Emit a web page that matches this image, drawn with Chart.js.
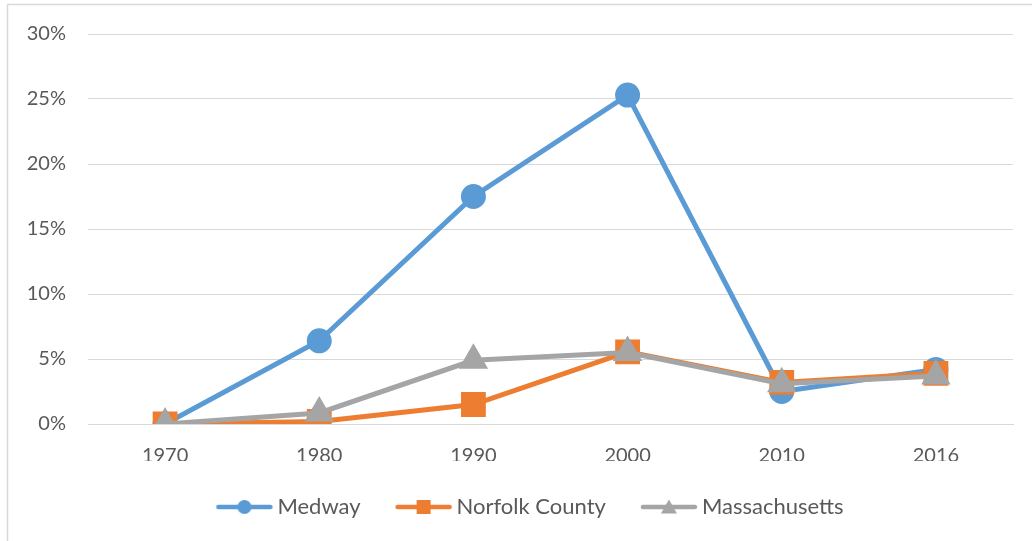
<!DOCTYPE html>
<html>
<head>
<meta charset="utf-8">
<script src="https://cdn.jsdelivr.net/npm/chart.js@4/dist/chart.umd.min.js"></script>
<style>
html,body{margin:0;padding:0;background:#fff;}
#wrap{width:1032px;height:541px;position:relative;}
</style>
</head>
<body>
<div id="wrap"><canvas id="c" width="1032" height="541"></canvas></div>
<script>
const categories = ['1970', '1980', '1990', '2000', '2010', '2016'];
const medway = [0, 6.4, 17.5, 25.3, 2.5, 4.2];
const norfolk = [0, 0.2, 1.5, 5.55, 3.2, 3.9];
const massachusetts = [0, 0.85, 4.9, 5.5, 3.1, 3.7];
const seriesNames = ['Medway', 'Norfolk County', 'Massachusetts'];
const colors = ['#5b9bd5', '#ed7d31', '#a5a5a5'];
const FONT = 'Lato, "Open Sans", sans-serif';

function legendIcon(color, shape) {
  const c = document.createElement('canvas');
  c.width = 64; c.height = 18;
  const g = c.getContext('2d');
  g.strokeStyle = color; g.fillStyle = color;
  g.lineWidth = 4.5; g.lineCap = 'round';
  g.beginPath(); g.moveTo(9, 9); g.lineTo(61, 9); g.stroke();
  const cx = 35;
  g.beginPath();
  if (shape === 'circle') { g.arc(cx, 9, 7, 0, Math.PI * 2); }
  else if (shape === 'rect') { g.rect(cx - 7, 2, 14, 14); }
  else { g.moveTo(cx, 1.5); g.lineTo(cx + 8, 15.5); g.lineTo(cx - 8, 15.5); g.closePath(); }
  g.fill();
  return c;
}
const icons = [legendIcon(colors[0], 'circle'), legendIcon(colors[1], 'rect'), legendIcon(colors[2], 'tri')];

const borderPlugin = {
  id: 'outerBorder',
  afterLayout(chart) {
    if (chart.legend) { chart.legend.left += 18; chart.legend.right += 18; }
  },
  beforeDraw(chart) {
    const ctx = chart.ctx;
    ctx.save();
    ctx.strokeStyle = '#d9d9d9';
    ctx.lineWidth = 1.5;
    ctx.beginPath();
    ctx.moveTo(7.5, 541);
    ctx.lineTo(7.5, 4.5);
    ctx.lineTo(1032, 4.5);
    ctx.stroke();
    ctx.restore();
  }
};

new Chart(document.getElementById('c'), {
  type: 'line',
  data: {
    labels: categories,
    datasets: [
      { label: seriesNames[0], data: medway, borderColor: colors[0], backgroundColor: colors[0], pointStyle: 'circle', pointRadius: 10, pointHoverRadius: 10, borderWidth: 5, order: 3 },
      { label: seriesNames[1], data: norfolk, borderColor: colors[1], backgroundColor: colors[1], pointStyle: 'rect', pointRadius: 14, pointHoverRadius: 14, borderWidth: 5, order: 2 },
      { label: seriesNames[2], data: massachusetts, borderColor: colors[2], backgroundColor: colors[2], pointStyle: 'triangle', pointRadius: 12, pointHoverRadius: 12, borderWidth: 5, order: 1 }
    ]
  },
  options: {
    responsive: false,
    animation: false,
    layout: { padding: { left: 10, right: 18, top: 33, bottom: 13 } },
    elements: { line: { tension: 0 }, point: { borderWidth: 0 } },
    scales: {
      x: {
        offset: true,
        grid: { display: false, drawTicks: false },
        border: { display: true, color: '#d9d9d9', width: 1 },
        ticks: { color: '#595959', font: { family: FONT, size: 20 }, padding: 20 },
        afterFit(s) { s.height = 37; }
      },
      y: {
        min: 0, max: 30,
        grid: { color: '#d9d9d9', lineWidth: 1, drawTicks: false },
        border: { display: false },
        ticks: { stepSize: 5, color: '#595959', font: { family: FONT, size: 20 }, padding: 22, callback: v => v + '%' },
        afterFit(s) { s.width = 78; }
      }
    },
    plugins: {
      tooltip: { enabled: false },
      legend: {
        position: 'bottom',
        labels: {
          usePointStyle: true,
          pointStyleWidth: 50,
          padding: 35,
          color: '#595959',
          font: { family: FONT, size: 22 },
          sort: (a, b) => a.datasetIndex - b.datasetIndex,
          generateLabels(chart) {
            return chart.data.datasets.map((d, i) => ({
              text: d.label, pointStyle: icons[i], fillStyle: d.borderColor, strokeStyle: d.borderColor,
              lineWidth: 0, hidden: false, datasetIndex: i, fontColor: '#595959'
            }));
          }
        }
      }
    }
  },
  plugins: [borderPlugin]
});
</script>
</body>
</html>
